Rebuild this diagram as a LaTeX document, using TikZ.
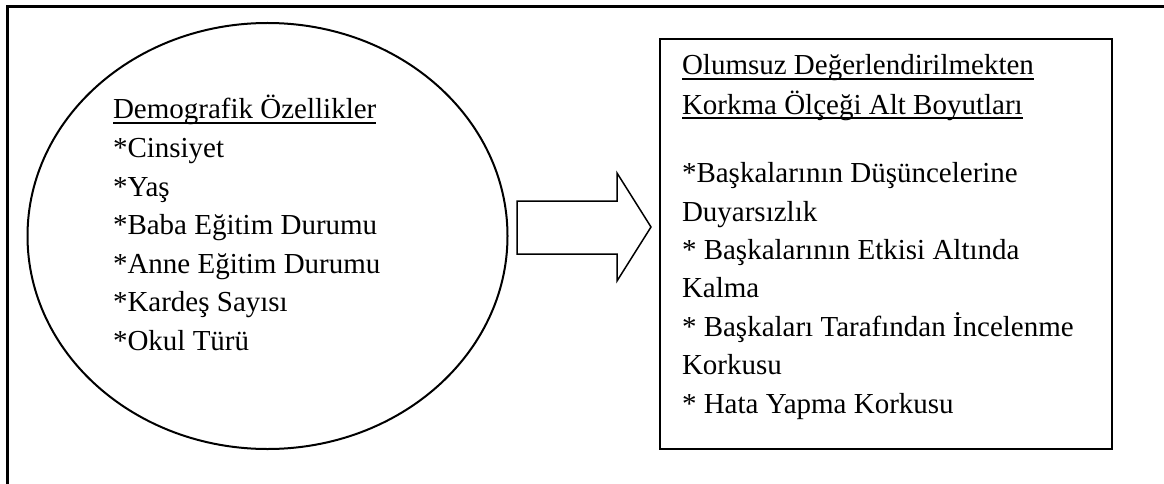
\documentclass[tikz,border=0pt]{standalone}
\usepackage{fontspec}
\setmainfont{Liberation Serif}
\usetikzlibrary{shapes.geometric}

\begin{document}
\begin{tikzpicture}[x=1pt, y=-1pt, every node/.style={inner sep=0pt, outer sep=0pt},
    txt/.style={anchor=base west, font=\fontsize{29}{38}\selectfont},
    ul/.style={line width=1.6pt}]
    \useasboundingbox (0,0) rectangle (1164,484);
    \clip (0,0) rectangle (1164,484);

    % Outer frame (runs past the right and bottom edge)
    \draw[line width=3pt] (7,7) rectangle (1180,500);

    % Demographics ellipse (x=267, y=236)
    \node[draw, ellipse, line width=2pt, minimum width=480pt, minimum height=426pt] (demo) at (267.5,236) {};
    \node[txt] (dtitle) at (113,119) {Demografik Özellikler};
    \draw[ul] ([yshift=-4pt]dtitle.base west) -- ([yshift=-4pt]dtitle.base east);
    \node[txt] (cins) at (113,157.5) {*Cinsiyet};
    \node[txt] (yas) at (113,196) {*Yaş};
    \node[txt] (baba) at (113,234.5) {*Baba Eğitim Durumu};
    \node[txt] (anne) at (113,273) {*Anne Eğitim Durumu};
    \node[txt] (kardes) at (113,311.5) {*Kardeş Sayısı};
    \node[txt] (okul) at (113,350) {*Okul Türü};

    % Scale box (x=660..1112, y=39..449)
    \node[draw, rectangle, line width=2pt, minimum width=452pt, minimum height=410pt, anchor=north west] (olcek) at (660,39) {};
    \node[txt] (otitle) at (682,75) {Olumsuz Değerlendirilmekten};
    \draw[ul] ([yshift=-4pt]otitle.base west) -- ([yshift=-4pt]otitle.base east);
    \node[txt] (otitleb) at (682,114) {Korkma Ölçeği Alt Boyutları};
    \draw[ul] ([yshift=-4pt]otitleb.base west) -- ([yshift=-4pt]otitleb.base east);
    \node[txt] (dusunce) at (682,182) {*Başkalarının Düşüncelerine};
    \node[txt] (duyar) at (682,221) {Duyarsızlık};
    \node[txt] (etki) at (682,259) {* Başkalarının Etkisi Altında};
    \node[txt] (kalma) at (682,297) {Kalma};
    \node[txt] (incel) at (682,336) {* Başkaları Tarafından İncelenme};
    \node[txt] (korku) at (682,374) {Korkusu};
    \node[txt] (hata) at (682,413) {* Hata Yapma Korkusu};

    % Block arrow between ellipse and box
    \draw[line width=1.5pt] (517,201) -- (617,201) -- (617,173) -- (651,227)
        -- (617,281) -- (617,254) -- (517,254) -- cycle;
\end{tikzpicture}
\end{document}
